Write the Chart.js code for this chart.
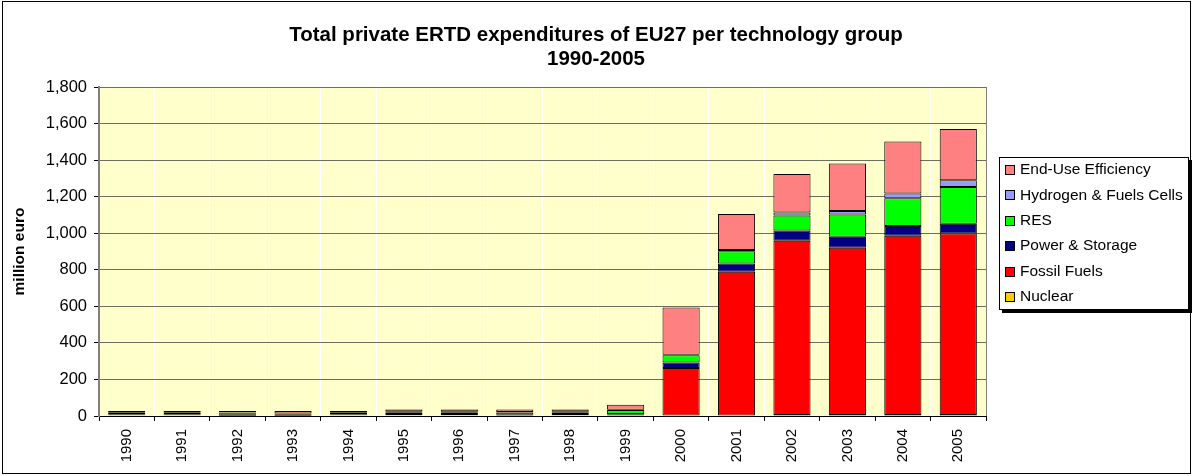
<!DOCTYPE html>
<html>
<head>
<meta charset="utf-8">
<script src="https://cdn.jsdelivr.net/npm/chart.js@4.4.1/dist/chart.umd.min.js"></script>
<style>
  html, body { margin: 0; padding: 0; background: #ffffff; }
  #wrap { width: 1192px; height: 476px; position: relative; }
</style>
</head>
<body>
<div id="wrap"><canvas id="c" width="1192" height="476"></canvas></div>
<script>
const years = ['1990','1991','1992','1993','1994','1995','1996','1997','1998','1999','2000','2001','2002','2003','2004','2005'];
const nuclear    = [4, 4, 1, 2, 4, 4, 4, 1, 4, 3, 0, 0, 5, 5, 5, 5];
const fossil     = [6, 6, 8, 4, 6, 7, 7, 3, 7, 4, 262, 789, 954, 915, 981, 994];
const power      = [6, 6, 6, 4, 6, 6, 6, 3, 6, 4, 31, 45, 56, 61, 53, 53];
const res        = [4, 4, 4, 3, 4, 4, 4, 12, 4, 22, 40, 68, 82, 122, 152, 201];
const hydrogen   = [2, 2, 2, 1, 2, 2, 2, 3, 2, 1, 2, 6, 17, 18, 27, 37];
const endUse     = [5, 5, 6, 13, 5, 13, 13, 14, 13, 27, 259, 197, 210, 260, 284, 280];
const seriesNames = ['Nuclear', 'Fossil Fuels', 'Power & Storage', 'RES', 'Hydrogen & Fuels Cells', 'End-Use Efficiency'];
const seriesColors = ['#FFCC00', '#FF0000', '#000080', '#00FF00', '#9999FF', '#FF8080'];
const yTicks = [0, 200, 400, 600, 800, 1000, 1200, 1400, 1600, 1800];

const FONT = "'Liberation Sans', Arial, sans-serif";
const seriesData = [nuclear, fossil, power, res, hydrogen, endUse];

const datasets = seriesData.map((d, i) => ({
  label: seriesNames[i],
  data: d,
  backgroundColor: seriesColors[i],
  borderColor: '#000000',
  borderWidth: 1,
  borderSkipped: false,
  barPercentage: 0.67,
  categoryPercentage: 1.0
}));

const frameAndBg = {
  id: 'frameAndBg',
  beforeDraw(chart) {
    const { ctx, chartArea: a } = chart;
    ctx.save();
    ctx.fillStyle = '#ffffff';
    ctx.fillRect(0, 0, chart.width, chart.height);
    ctx.fillStyle = '#FFFFCC';
    ctx.fillRect(a.left, a.top, a.right - a.left, a.bottom - a.top);
    ctx.restore();
  },
  afterDraw(chart) {
    const { ctx, chartArea: a } = chart;
    ctx.save();
    ctx.strokeStyle = '#808080';
    ctx.lineWidth = 1;
    ctx.beginPath();
    ctx.moveTo(Math.round(a.right) + 0.5, a.top);
    ctx.lineTo(Math.round(a.right) + 0.5, a.bottom);
    ctx.stroke();
    ctx.strokeStyle = '#000000';
    ctx.strokeRect(2.5, 1.5, 1188, 472);
    ctx.restore();
  }
};

const customLegend = {
  id: 'customLegend',
  afterDraw(chart) {
    const { ctx } = chart;
    const x0 = 999, y0 = 157, w = 190, h = 153;
    ctx.save();
    ctx.fillStyle = '#000000';
    ctx.fillRect(x0 + 3, y0 + 3, w, h);
    ctx.fillStyle = '#ffffff';
    ctx.fillRect(x0, y0, w, h);
    ctx.strokeStyle = '#000000';
    ctx.lineWidth = 1;
    ctx.strokeRect(x0 + 0.5, y0 + 0.5, w - 1, h - 1);
    const ds = chart.data.datasets.slice().reverse();
    ctx.font = '15.5px ' + FONT;
    ctx.textBaseline = 'middle';
    ds.forEach((d, i) => {
      const cy = 170 + i * 25.4;
      ctx.fillStyle = d.backgroundColor;
      ctx.fillRect(1005, Math.round(cy) - 5, 9, 9);
      ctx.strokeStyle = '#000000';
      ctx.strokeRect(1005.5, Math.round(cy) - 4.5, 9, 9);
      ctx.fillStyle = '#000000';
      ctx.fillText(d.label, 1020, cy);
    });
    ctx.restore();
  }
};

new Chart(document.getElementById('c'), {
  type: 'bar',
  data: { labels: years, datasets },
  plugins: [frameAndBg, customLegend],
  options: {
    responsive: false,
    animation: false,
    devicePixelRatio: 1,
    layout: { padding: 0 },
    plugins: {
      legend: { display: false },
      tooltip: { enabled: false },
      title: {
        display: true,
        text: ['Total private ERTD expenditures of EU27 per technology group', '1990-2005'],
        color: '#000000',
        font: { family: FONT, size: 20.5, weight: 'bold', lineHeight: 24 / 20.5 },
        padding: { top: 23, bottom: 16 }
      }
    },
    scales: {
      x: {
        stacked: true,
        offset: true,
        grid: { offset: true, color: '#ffffff', lineWidth: 1, tickColor: '#000000', tickLength: 5, drawTicks: true },
        border: { color: '#000000', width: 1 },
        ticks: { color: '#000000', font: { family: FONT, size: 15 }, minRotation: 90, maxRotation: 90, padding: 8, autoSkip: false },
        afterFit(scale) { scale.height = 60; }
      },
      y: {
        stacked: true,
        min: 0,
        max: 1800,
        afterBuildTicks(scale) { scale.ticks = yTicks.map(v => ({ value: v })); },
        grid: { color: '#6e6e5c', lineWidth: 1, tickColor: '#000000', tickLength: 5, drawTicks: true },
        border: { color: '#808080', width: 2 },
        ticks: {
          color: '#000000',
          font: { family: FONT, size: 16.5 },
          padding: 7,
          callback: (v) => Number(v).toLocaleString('en-US')
        },
        title: {
          display: true,
          text: 'million euro',
          color: '#000000',
          font: { family: FONT, size: 15.5, weight: 'bold' },
          padding: { top: 10, bottom: 0 }
        },
        afterFit(scale) { scale.width = 99; }
      },
      yRight: {
        position: 'right',
        display: true,
        min: 0,
        max: 1800,
        grid: { display: false, drawOnChartArea: false, drawTicks: false },
        border: { display: false },
        ticks: { display: false },
        afterFit(scale) { scale.width = 206; }
      }
    }
  }
});
</script>
</body>
</html>
